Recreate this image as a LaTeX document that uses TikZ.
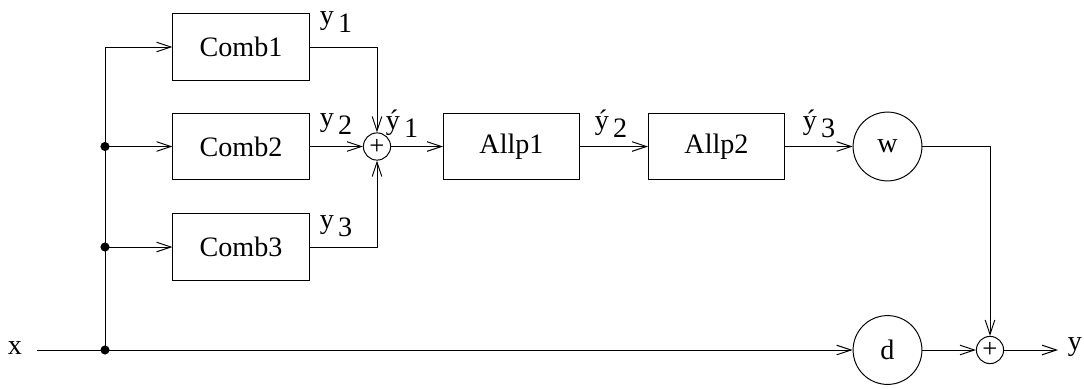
\documentclass[tikz,border=0pt]{standalone}
\usepackage{fontspec}
\setmainfont{Liberation Serif}
\usetikzlibrary{arrows.meta,positioning}
\tikzstyle{sig} = [->, >={Straight Barb[length=3.6mm,width=2.4mm]}, line width=0.7pt]
\tikzstyle{block} = [rectangle, draw, line width=0.7pt, minimum width=3.4cm, minimum height=1.67cm, inner sep=0pt]
\tikzstyle{gain} = [circle, draw, line width=0.7pt, minimum size=1.72cm, inner sep=0pt]
\tikzstyle{adder} = [circle, draw, line width=0.7pt, minimum size=0.68cm, inner sep=0pt, font=\fontsize{19}{19}\selectfont]
\tikzstyle{junction} = [circle, fill, inner sep=0pt, minimum size=6.5pt]
\newcommand{\ysub}[2]{#1\kern3pt\raisebox{-0.6ex}{#2}}

\begin{document}
\begin{tikzpicture}[x=0.025cm, y=-0.025cm, font=\fontsize{20}{22}\selectfont]
\useasboundingbox (0,0) rectangle (1084,388);
% comb filters in parallel
\node (comb1) [block] at (241,47) {Comb1};
\node (comb2) [block] at (241,146.5) {Comb2};
\node (comb3) [block] at (241,247) {Comb3};

% summing point, then the two allpass stages
\node (sum1) [adder] at (377,146.5) {+};
\node (allp1) [block] at (511.5,146.5) {Allp1};
\node (allp2) [block] at (716.5,146.5) {Allp2};
\node (w) [gain] at (887.5,146.5) {w};
\node (d) [gain] at (887.5,350) {d};
\node (sum2) [adder] at (990,350) {+};

% input, output and taps on the bus
\node (x) at (15,348) {x};
\node (y) at (1075,347) {y};
\coordinate (xin) at (37,350);
\coordinate (yend) at (1058,350);
\node (j0) [junction] at (105,350) {};
\node (j2) [junction] at (105,146.5) {};
\node (j3) [junction] at (105,247) {};

\draw[sig] (xin) -- (d);
\draw[sig] (j0.center) |- (comb1.west);
\draw[sig] (j2.center) -- (comb2);
\draw[sig] (j3.center) -- (comb3);
\draw[sig] (comb1.east) -| (sum1.north);
\draw[sig] (comb2) -- (sum1);
\draw[sig] (comb3.east) -| (sum1.south);
\draw[sig] (sum1) -- (allp1);
\draw[sig] (allp1) -- (allp2);
\draw[sig] (allp2) -- (w);
\draw[sig] (w.east) -| (sum2.north);
\draw[sig] (d) -- (sum2);
\draw[sig] (sum2) -- (yend);

% signal names
\node (ly1) at (336,22) {\ysub{y}{1}};
\node (ly2) at (336,124) {\ysub{y}{2}};
\node (ly3) at (336,226) {\ysub{y}{3}};
\node (lv1) at (402,124) {\ysub{ý}{1}};
\node (lv2) at (611,124) {\ysub{ý}{2}};
\node (lv3) at (819,124) {\ysub{ý}{3}};
\end{tikzpicture}
\end{document}
